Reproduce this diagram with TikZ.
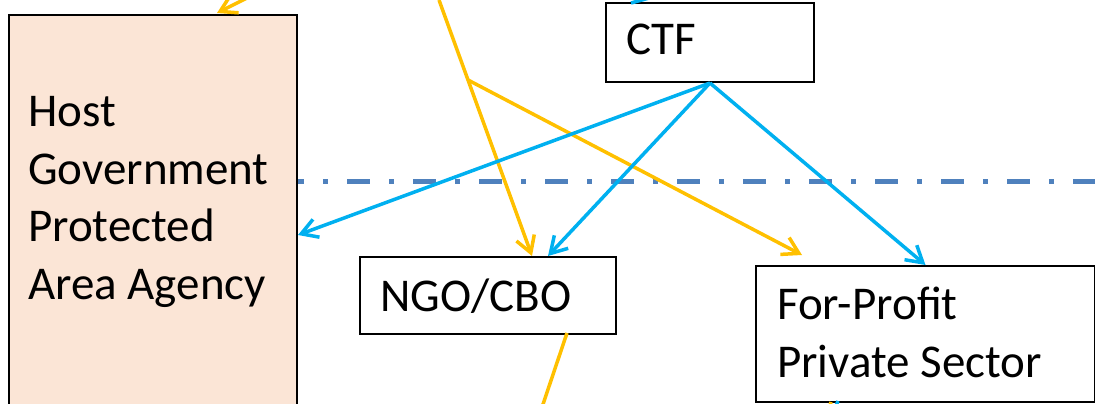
\documentclass[tikz,border=0pt]{standalone}
\usepackage{fontspec}
\setmainfont{Carlito}
\usetikzlibrary{arrows.meta}
\definecolor{gold}{HTML}{FFC000}
\definecolor{sky}{HTML}{00B0F0}
\definecolor{steel}{HTML}{4F81BD}
\definecolor{peach}{HTML}{FBE5D6}

\begin{document}
\begin{tikzpicture}[x=1pt, y=-1pt,
  box/.style={draw=black, line width=2pt, rectangle, inner sep=0pt, anchor=north west}, % 枠
  lbl/.style={inner sep=0pt, anchor=base west, align=left, font=\fontsize{47}{57.5}\selectfont}, % 最終行のベースライン
  flow/.style={line width=3.5pt, -{Straight Barb[length=16pt, width=19pt]}}, % 矢印
  goldline/.style={flow, draw=gold},
  skyline/.style={flow, draw=sky}]
  \useasboundingbox (0,0) rectangle (1095,404);
  \clip (0,0) rectangle (1095,404);

  % 境界線
  \draw[steel, line width=5pt, dash pattern=on 23pt off 19pt on 5pt off 19pt] (281,181) -- (1095,181);

  % 箱
  \node[box, fill=peach, minimum width=288pt, minimum height=440pt] (host) at (8,14) {};
  \node[lbl] (hosttxt) at (28,299) {Host\\Government\\Protected\\Area Agency};
  \node[box, minimum width=208pt, minimum height=79pt] (ctf) at (605,2) {};
  \node[lbl] (ctftxt) at (626,55) {CTF};
  \node[box, minimum width=256pt, minimum height=77pt] (ngo) at (359,256) {};
  \node[lbl] (ngotxt) at (380,311) {NGO/CBO};
  \node[box, minimum width=339pt, minimum height=136pt] (profit) at (755,265) {};
  \node[lbl] (profittxt) at (777,377) {For-Profit\\Private Sector};

  % 補助点
  \coordinate (fork) at (468,80);
  \coordinate (ytip) at (802,255);

  % 黄色の矢印
  \draw[goldline] (269,-13) -- (217,13);
  \draw[goldline] (439,0) -- (fork) -- (ngo.north -| 532,0);
  \draw[goldline] (fork) -- (ytip);
  \draw[gold, line width=3.5pt] (567,333) -- (535,428);
  \draw[gold, line width=3.5pt] (831,402) -- (822,430);

  % 青の矢印
  \draw[skyline] (ctf.south) -- (host.east);
  \draw[skyline] (ctf.south) -- (ngo.north -| 548,0);
  \draw[skyline] (ctf.south) -- (profit.north);
  \draw[sky, line width=3.5pt] (631,3) -- (660,-5);
  \draw[sky, line width=3.5pt] (838,401) -- (828,425);
\end{tikzpicture}
\end{document}
